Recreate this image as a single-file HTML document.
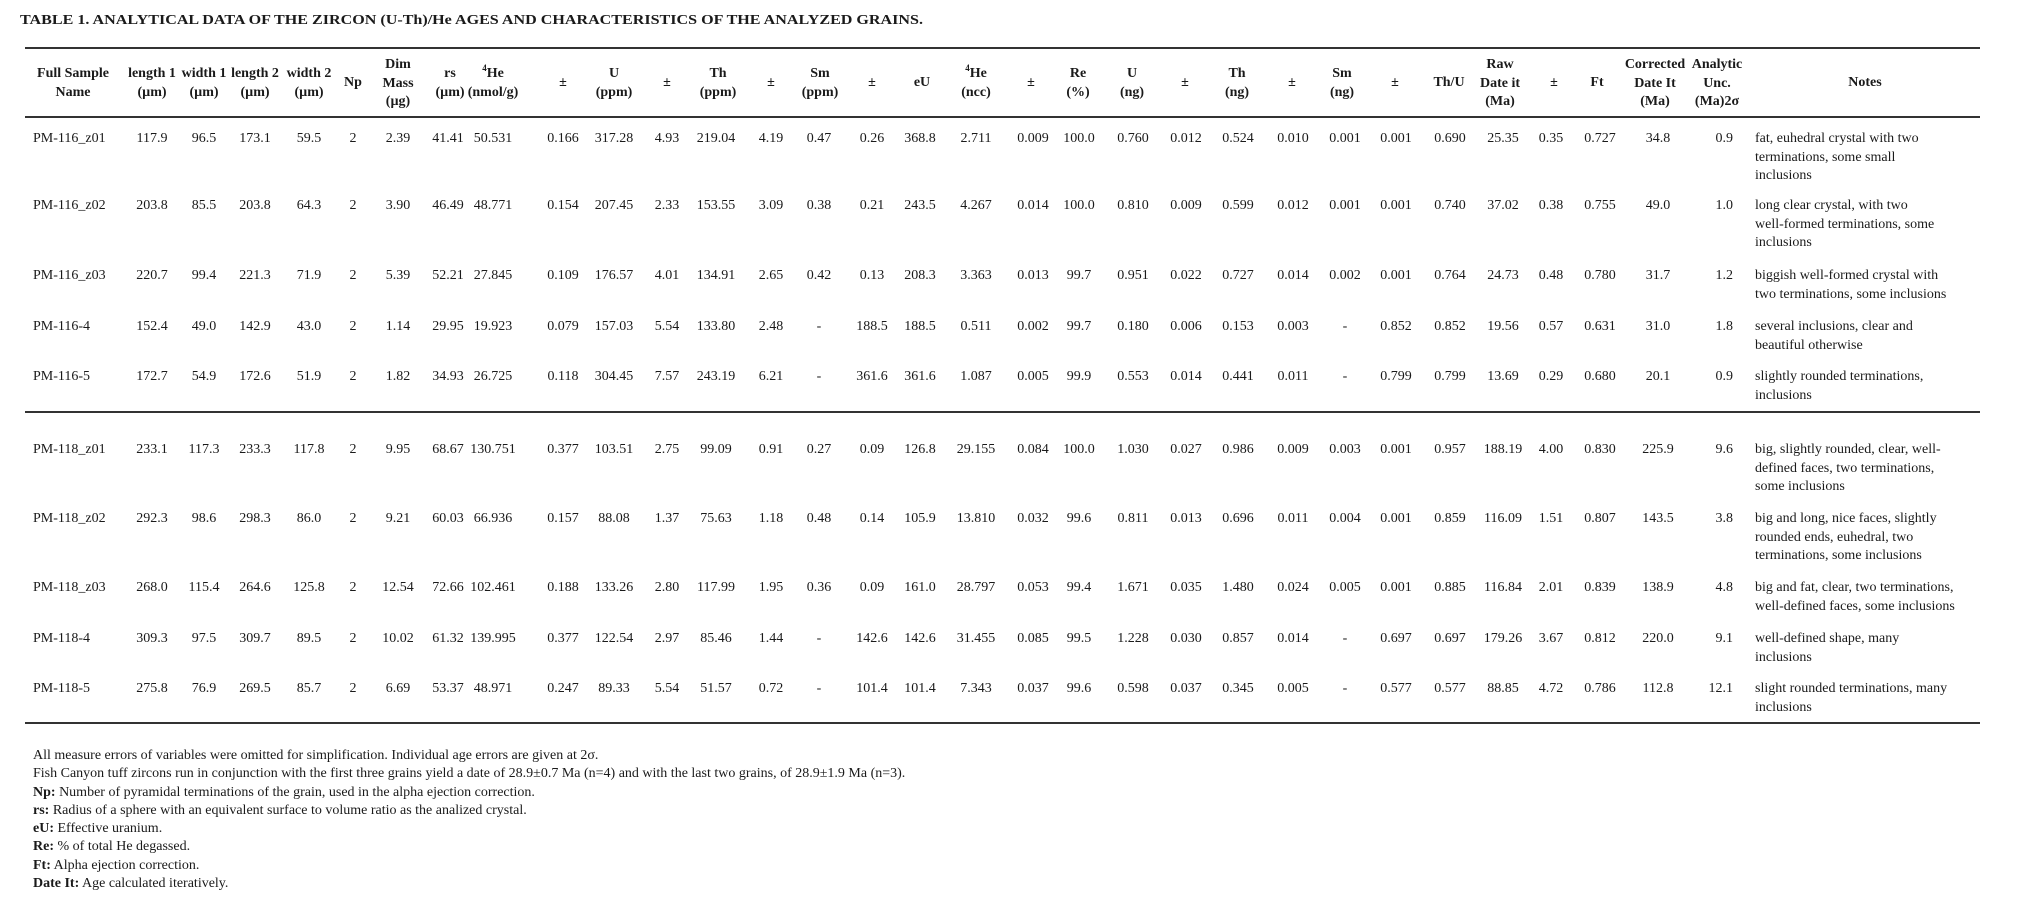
<!DOCTYPE html>
<html><head><meta charset="utf-8"><style>
html,body{margin:0;padding:0;background:#fff;}
body{width:2017px;height:911px;position:relative;overflow:hidden;font-family:"Liberation Serif",serif;font-size:14px;color:#1a1a1a;}
.rule{position:absolute;left:25px;width:1955px;height:2px;background:#333;}
.row{position:absolute;left:0;width:2017px;height:20px;line-height:18.7px;}
.row span{position:absolute;top:0;width:90px;margin-left:-45px;text-align:center;white-space:nowrap;}
.row span.a{left:33px;margin-left:0;text-align:left;width:auto;}
.row span.F{left:1643px;margin-left:0;text-align:right;}
.row span.G{left:1755px;margin-left:0;text-align:left;width:240px;white-space:nowrap;}
.b{left:152px}.c{left:204px}.d{left:255px}.e{left:309px}.f{left:353px}.g{left:398px}.h{left:448px}.i{left:493px}.j{left:563px}.k{left:614px}.l{left:667px}.m{left:716px}.n{left:771px}.o{left:819px}.p{left:872px}.q{left:920px}.r{left:976px}.s{left:1033px}.t{left:1079px}.u{left:1133px}.v{left:1186px}.w{left:1238px}.x{left:1293px}.y{left:1345px}.z{left:1396px}.A{left:1450px}.B{left:1503px}.C{left:1551px}.D{left:1600px}.E{left:1658px}
.hd span{position:absolute;width:100px;margin-left:-50px;text-align:center;font-weight:bold;line-height:18.5px;white-space:nowrap;}
.hd .h1{top:74px}.hd .h2{top:65px}.hd .h3{top:56px}
sup{font-size:9px;vertical-align:top;line-height:9px;position:relative;top:-1px}
.foot{position:absolute;left:33px;top:747px;line-height:18.3px;white-space:nowrap;}
</style></head><body>
<svg style="position:absolute;left:0;top:0" width="2017" height="40"><text x="20" y="24" font-family="Liberation Serif, serif" font-weight="bold" font-size="14" fill="#1a1a1a" textLength="903" lengthAdjust="spacingAndGlyphs">TABLE 1. ANALYTICAL DATA OF THE ZIRCON (U-Th)/He AGES AND CHARACTERISTICS OF THE ANALYZED GRAINS.</text></svg>

<div class="rule" style="top:47px"></div>
<div class="rule" style="top:116px"></div>
<div class="rule" style="top:411px"></div>
<div class="rule" style="top:722px"></div>

<div class="hd">
<span class="h2" style="left:73px">Full Sample<br>Name</span>
<span class="h2 b">length 1<br>(µm)</span>
<span class="h2 c">width 1<br>(µm)</span>
<span class="h2 d">length 2<br>(µm)</span>
<span class="h2 e">width 2<br>(µm)</span>
<span class="h1 f">Np</span>
<span class="h3 g">Dim<br>Mass<br>(µg)</span>
<span class="h2" style="left:450px">rs<br>(µm)</span>
<span class="h2 i"><sup>4</sup>He<br>(nmol/g)</span>
<span class="h1 j">±</span>
<span class="h2 k">U<br>(ppm)</span>
<span class="h1 l">±</span>
<span class="h2" style="left:718px">Th<br>(ppm)</span>
<span class="h1 n">±</span>
<span class="h2" style="left:820px">Sm<br>(ppm)</span>
<span class="h1 p">±</span>
<span class="h1" style="left:922px">eU</span>
<span class="h2 r"><sup>4</sup>He<br>(ncc)</span>
<span class="h1" style="left:1031px">±</span>
<span class="h2" style="left:1078px">Re<br>(%)</span>
<span class="h2" style="left:1132px">U<br>(ng)</span>
<span class="h1" style="left:1185px">±</span>
<span class="h2" style="left:1237px">Th<br>(ng)</span>
<span class="h1" style="left:1292px">±</span>
<span class="h2" style="left:1342px">Sm<br>(ng)</span>
<span class="h1" style="left:1395px">±</span>
<span class="h1" style="left:1449px">Th/U</span>
<span class="h3" style="left:1500px">Raw<br>Date it<br>(Ma)</span>
<span class="h1" style="left:1554px">±</span>
<span class="h1" style="left:1597px">Ft</span>
<span class="h3" style="left:1655px">Corrected<br>Date It<br>(Ma)</span>
<span class="h3" style="left:1717px">Analytic<br>Unc.<br>(Ma)2σ</span>
<span class="h1" style="left:1865px">Notes</span>
</div>

<div class="row" style="top:130px"><span class="a">PM-116_z01</span><span class="b">117.9</span><span class="c">96.5</span><span class="d">173.1</span><span class="e">59.5</span><span class="f">2</span><span class="g">2.39</span><span class="h">41.41</span><span class="i">50.531</span><span class="j">0.166</span><span class="k">317.28</span><span class="l">4.93</span><span class="m">219.04</span><span class="n">4.19</span><span class="o">0.47</span><span class="p">0.26</span><span class="q">368.8</span><span class="r">2.711</span><span class="s">0.009</span><span class="t">100.0</span><span class="u">0.760</span><span class="v">0.012</span><span class="w">0.524</span><span class="x">0.010</span><span class="y">0.001</span><span class="z">0.001</span><span class="A">0.690</span><span class="B">25.35</span><span class="C">0.35</span><span class="D">0.727</span><span class="E">34.8</span><span class="F">0.9</span><span class="G">fat, euhedral crystal with two<br>terminations, some small<br>inclusions</span></div>

<div class="row" style="top:197px"><span class="a">PM-116_z02</span><span class="b">203.8</span><span class="c">85.5</span><span class="d">203.8</span><span class="e">64.3</span><span class="f">2</span><span class="g">3.90</span><span class="h">46.49</span><span class="i">48.771</span><span class="j">0.154</span><span class="k">207.45</span><span class="l">2.33</span><span class="m">153.55</span><span class="n">3.09</span><span class="o">0.38</span><span class="p">0.21</span><span class="q">243.5</span><span class="r">4.267</span><span class="s">0.014</span><span class="t">100.0</span><span class="u">0.810</span><span class="v">0.009</span><span class="w">0.599</span><span class="x">0.012</span><span class="y">0.001</span><span class="z">0.001</span><span class="A">0.740</span><span class="B">37.02</span><span class="C">0.38</span><span class="D">0.755</span><span class="E">49.0</span><span class="F">1.0</span><span class="G">long clear crystal, with two<br>well-formed terminations, some<br>inclusions</span></div>

<div class="row" style="top:267px"><span class="a">PM-116_z03</span><span class="b">220.7</span><span class="c">99.4</span><span class="d">221.3</span><span class="e">71.9</span><span class="f">2</span><span class="g">5.39</span><span class="h">52.21</span><span class="i">27.845</span><span class="j">0.109</span><span class="k">176.57</span><span class="l">4.01</span><span class="m">134.91</span><span class="n">2.65</span><span class="o">0.42</span><span class="p">0.13</span><span class="q">208.3</span><span class="r">3.363</span><span class="s">0.013</span><span class="t">99.7</span><span class="u">0.951</span><span class="v">0.022</span><span class="w">0.727</span><span class="x">0.014</span><span class="y">0.002</span><span class="z">0.001</span><span class="A">0.764</span><span class="B">24.73</span><span class="C">0.48</span><span class="D">0.780</span><span class="E">31.7</span><span class="F">1.2</span><span class="G">biggish well-formed crystal with<br>two terminations, some inclusions</span></div>

<div class="row" style="top:318px"><span class="a">PM-116-4</span><span class="b">152.4</span><span class="c">49.0</span><span class="d">142.9</span><span class="e">43.0</span><span class="f">2</span><span class="g">1.14</span><span class="h">29.95</span><span class="i">19.923</span><span class="j">0.079</span><span class="k">157.03</span><span class="l">5.54</span><span class="m">133.80</span><span class="n">2.48</span><span class="o">-</span><span class="p">188.5</span><span class="q">188.5</span><span class="r">0.511</span><span class="s">0.002</span><span class="t">99.7</span><span class="u">0.180</span><span class="v">0.006</span><span class="w">0.153</span><span class="x">0.003</span><span class="y">-</span><span class="z">0.852</span><span class="A">0.852</span><span class="B">19.56</span><span class="C">0.57</span><span class="D">0.631</span><span class="E">31.0</span><span class="F">1.8</span><span class="G">several inclusions, clear and<br>beautiful otherwise</span></div>

<div class="row" style="top:368px"><span class="a">PM-116-5</span><span class="b">172.7</span><span class="c">54.9</span><span class="d">172.6</span><span class="e">51.9</span><span class="f">2</span><span class="g">1.82</span><span class="h">34.93</span><span class="i">26.725</span><span class="j">0.118</span><span class="k">304.45</span><span class="l">7.57</span><span class="m">243.19</span><span class="n">6.21</span><span class="o">-</span><span class="p">361.6</span><span class="q">361.6</span><span class="r">1.087</span><span class="s">0.005</span><span class="t">99.9</span><span class="u">0.553</span><span class="v">0.014</span><span class="w">0.441</span><span class="x">0.011</span><span class="y">-</span><span class="z">0.799</span><span class="A">0.799</span><span class="B">13.69</span><span class="C">0.29</span><span class="D">0.680</span><span class="E">20.1</span><span class="F">0.9</span><span class="G">slightly rounded terminations,<br>inclusions</span></div>

<div class="row" style="top:441px"><span class="a">PM-118_z01</span><span class="b">233.1</span><span class="c">117.3</span><span class="d">233.3</span><span class="e">117.8</span><span class="f">2</span><span class="g">9.95</span><span class="h">68.67</span><span class="i">130.751</span><span class="j">0.377</span><span class="k">103.51</span><span class="l">2.75</span><span class="m">99.09</span><span class="n">0.91</span><span class="o">0.27</span><span class="p">0.09</span><span class="q">126.8</span><span class="r">29.155</span><span class="s">0.084</span><span class="t">100.0</span><span class="u">1.030</span><span class="v">0.027</span><span class="w">0.986</span><span class="x">0.009</span><span class="y">0.003</span><span class="z">0.001</span><span class="A">0.957</span><span class="B">188.19</span><span class="C">4.00</span><span class="D">0.830</span><span class="E">225.9</span><span class="F">9.6</span><span class="G">big, slightly rounded, clear, well-<br>defined faces, two terminations,<br>some inclusions</span></div>

<div class="row" style="top:510px"><span class="a">PM-118_z02</span><span class="b">292.3</span><span class="c">98.6</span><span class="d">298.3</span><span class="e">86.0</span><span class="f">2</span><span class="g">9.21</span><span class="h">60.03</span><span class="i">66.936</span><span class="j">0.157</span><span class="k">88.08</span><span class="l">1.37</span><span class="m">75.63</span><span class="n">1.18</span><span class="o">0.48</span><span class="p">0.14</span><span class="q">105.9</span><span class="r">13.810</span><span class="s">0.032</span><span class="t">99.6</span><span class="u">0.811</span><span class="v">0.013</span><span class="w">0.696</span><span class="x">0.011</span><span class="y">0.004</span><span class="z">0.001</span><span class="A">0.859</span><span class="B">116.09</span><span class="C">1.51</span><span class="D">0.807</span><span class="E">143.5</span><span class="F">3.8</span><span class="G">big and long, nice faces, slightly<br>rounded ends, euhedral, two<br>terminations, some inclusions</span></div>

<div class="row" style="top:579px"><span class="a">PM-118_z03</span><span class="b">268.0</span><span class="c">115.4</span><span class="d">264.6</span><span class="e">125.8</span><span class="f">2</span><span class="g">12.54</span><span class="h">72.66</span><span class="i">102.461</span><span class="j">0.188</span><span class="k">133.26</span><span class="l">2.80</span><span class="m">117.99</span><span class="n">1.95</span><span class="o">0.36</span><span class="p">0.09</span><span class="q">161.0</span><span class="r">28.797</span><span class="s">0.053</span><span class="t">99.4</span><span class="u">1.671</span><span class="v">0.035</span><span class="w">1.480</span><span class="x">0.024</span><span class="y">0.005</span><span class="z">0.001</span><span class="A">0.885</span><span class="B">116.84</span><span class="C">2.01</span><span class="D">0.839</span><span class="E">138.9</span><span class="F">4.8</span><span class="G">big and fat, clear, two terminations,<br>well-defined faces, some inclusions</span></div>

<div class="row" style="top:630px"><span class="a">PM-118-4</span><span class="b">309.3</span><span class="c">97.5</span><span class="d">309.7</span><span class="e">89.5</span><span class="f">2</span><span class="g">10.02</span><span class="h">61.32</span><span class="i">139.995</span><span class="j">0.377</span><span class="k">122.54</span><span class="l">2.97</span><span class="m">85.46</span><span class="n">1.44</span><span class="o">-</span><span class="p">142.6</span><span class="q">142.6</span><span class="r">31.455</span><span class="s">0.085</span><span class="t">99.5</span><span class="u">1.228</span><span class="v">0.030</span><span class="w">0.857</span><span class="x">0.014</span><span class="y">-</span><span class="z">0.697</span><span class="A">0.697</span><span class="B">179.26</span><span class="C">3.67</span><span class="D">0.812</span><span class="E">220.0</span><span class="F">9.1</span><span class="G">well-defined shape, many<br>inclusions</span></div>

<div class="row" style="top:680px"><span class="a">PM-118-5</span><span class="b">275.8</span><span class="c">76.9</span><span class="d">269.5</span><span class="e">85.7</span><span class="f">2</span><span class="g">6.69</span><span class="h">53.37</span><span class="i">48.971</span><span class="j">0.247</span><span class="k">89.33</span><span class="l">5.54</span><span class="m">51.57</span><span class="n">0.72</span><span class="o">-</span><span class="p">101.4</span><span class="q">101.4</span><span class="r">7.343</span><span class="s">0.037</span><span class="t">99.6</span><span class="u">0.598</span><span class="v">0.037</span><span class="w">0.345</span><span class="x">0.005</span><span class="y">-</span><span class="z">0.577</span><span class="A">0.577</span><span class="B">88.85</span><span class="C">4.72</span><span class="D">0.786</span><span class="E">112.8</span><span class="F">12.1</span><span class="G">slight rounded terminations, many<br>inclusions</span></div>

<div class="foot">
All measure errors of variables were omitted for simplification. Individual age errors are given at 2σ.<br>
Fish Canyon tuff zircons run in conjunction with the first three grains yield a date of 28.9±0.7 Ma (n=4) and with the last two grains, of 28.9±1.9 Ma (n=3).<br>
<b>Np:</b> Number of pyramidal terminations of the grain, used in the alpha ejection correction.<br>
<b>rs:</b> Radius of a sphere with an equivalent surface to volume ratio as the analized crystal.<br>
<b>eU:</b> Effective uranium.<br>
<b>Re:</b> % of total He degassed.<br>
<b>Ft:</b> Alpha ejection correction.<br>
<b>Date It:</b> Age calculated iteratively.
</div>
</body></html>
